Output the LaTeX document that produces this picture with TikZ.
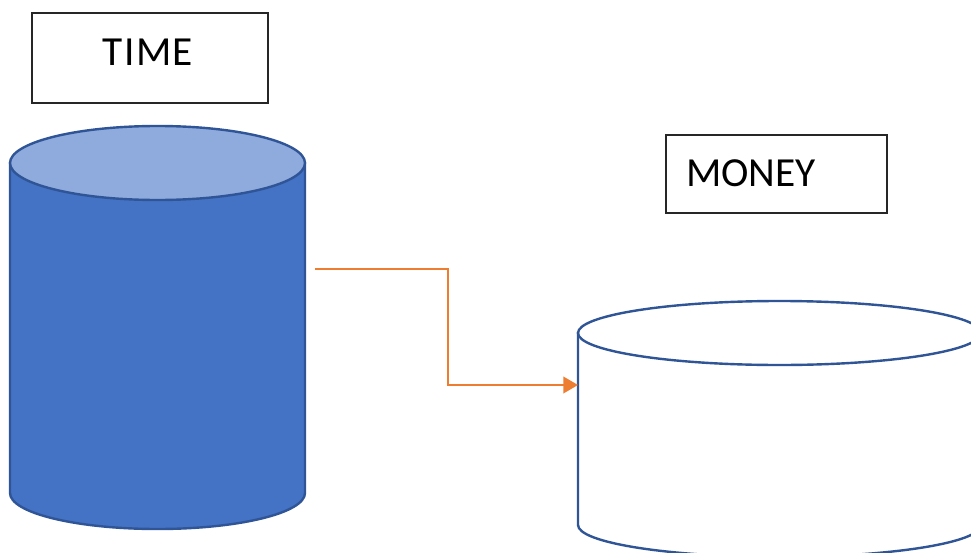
\documentclass[tikz,border=0pt]{standalone}
\usepackage{fontspec}
\setmainfont{Carlito}
\usetikzlibrary{arrows.meta}
\definecolor{cylfill}{HTML}{4472C4}
\definecolor{cyltop}{HTML}{8FAADC}
\definecolor{cylline}{HTML}{2F5597}
\definecolor{flow}{HTML}{ED7D31}
\tikzset{
  labelbox/.style={draw=black!85, line width=1.4pt, fill=white, inner sep=0pt},
  labeltext/.style={inner sep=0pt, font=\fontsize{31}{36}\selectfont},
  cyledge/.style={draw=cylline, line width=1.8pt},
  flowline/.style={draw=flow, line width=1.2pt, -{Triangle[length=11pt,width=12.5pt]}},
}
\begin{document}
\begin{tikzpicture}[x=0.75pt,y=-0.75pt]
\useasboundingbox (0,0) rectangle (971,553);

% filled store on the left
\path[cyledge, fill=cylfill] (10,163) -- (10,493)
  arc[start angle=180, end angle=0, x radius=147.5, y radius=36]
  -- (305,163) -- cycle;
\path[cyledge, fill=cyltop] (157.5,163) ellipse[x radius=147.5, y radius=37];

% empty store on the right
\path[cyledge, fill=white] (578,333) -- (578,525)
  arc[start angle=180, end angle=0, x radius=201.5, y radius=32]
  -- (981,333) -- cycle;
\path[cyledge, fill=white] (779.5,333) ellipse[x radius=201.5, y radius=32];

% labels
\node[labelbox, minimum width=236*0.75pt, minimum height=90*0.75pt] (timebox) at (150,58) {};
\node[labeltext] (timetext) at (148,52) {T\kern1pt I\kern1pt M\kern1pt E};
\node[labelbox, minimum width=221*0.75pt, minimum height=78*0.75pt] (moneybox) at (776.5,174) {};
\node[labeltext, anchor=west] (moneytext) at (686,173.5) {MONEY};

% flow from one store to the other
\coordinate (timeout) at (315,269);
\coordinate (moneyin) at (578,385);
\draw[flowline] (timeout) -- (448,269) |- (moneyin);
\end{tikzpicture}
\end{document}
